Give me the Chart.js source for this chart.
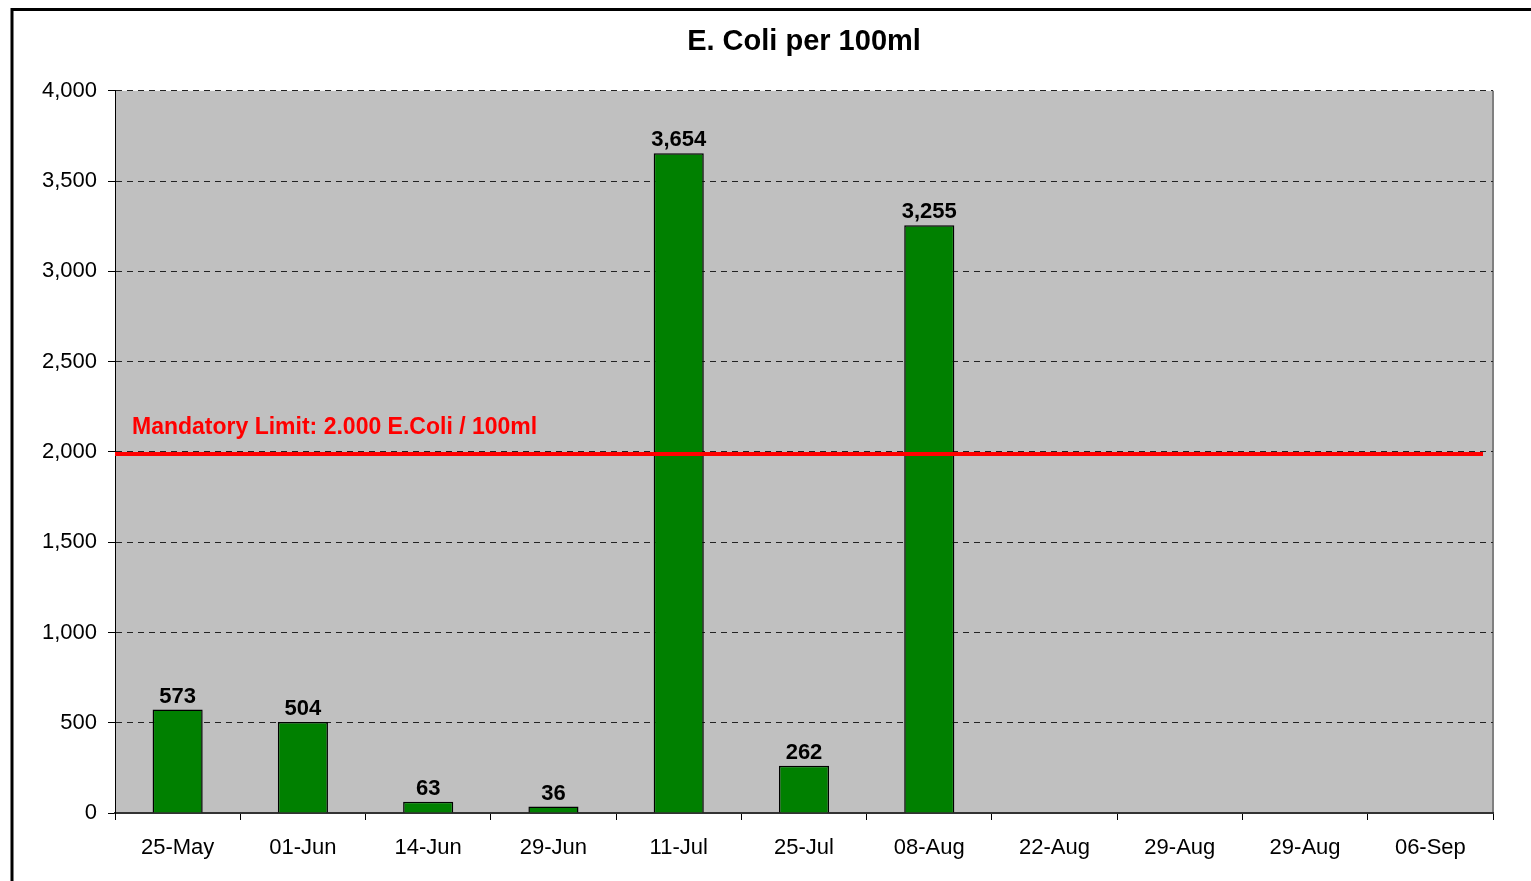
<!DOCTYPE html>
<html>
<head>
<meta charset="utf-8">
<script src="https://cdn.jsdelivr.net/npm/chart.js@4.4.0/dist/chart.umd.min.js"></script>
<style>
  html, body { margin: 0; padding: 0; background: #fff; }
  #wrap { width: 1531px; height: 881px; }
</style>
</head>
<body>
<div id="wrap"><canvas id="chart" width="1531" height="881"></canvas></div>
<script>
const dates = ['25-May', '01-Jun', '14-Jun', '29-Jun', '11-Jul', '25-Jul', '08-Aug', '22-Aug', '29-Aug', '29-Aug', '06-Sep'];
const ecoli = [573, 504, 63, 36, 3654, 262, 3255, null, null, null, null];
const limitValue = 2000;
const limitLabel = 'Mandatory Limit: 2.000 E.Coli / 100ml';

const font = 'Liberation Sans, Arial, sans-serif';

// grey plot area, outer frame, right border
const plotArea = {
  id: 'plotArea',
  beforeDraw(chart) {
    const { ctx, chartArea: a } = chart;
    ctx.save();
    ctx.fillStyle = '#c0c0c0';
    ctx.fillRect(a.left, a.top, a.right - a.left, a.bottom - a.top);
    ctx.strokeStyle = '#808080';
    ctx.lineWidth = 2;
    ctx.beginPath();
    ctx.moveTo(a.right, a.top);
    ctx.lineTo(a.right, a.bottom);
    ctx.stroke();
    ctx.strokeStyle = '#000';
    ctx.lineWidth = 3;
    ctx.strokeRect(12, 9.5, 1600, 1000);
    ctx.restore();
  }
};

// limit line + label, bar value labels
const extras = {
  id: 'extras',
  afterDatasetsDraw(chart) {
    const { ctx, chartArea: a, scales: { y } } = chart;
    const ly = y.getPixelForValue(limitValue) + 2;
    ctx.save();
    ctx.strokeStyle = '#ff0000';
    ctx.lineWidth = 4;
    ctx.beginPath();
    ctx.moveTo(a.left, ly);
    ctx.lineTo(a.right - 10, ly);
    ctx.stroke();
    ctx.fillStyle = '#ff0000';
    ctx.font = 'bold 23px ' + font;
    ctx.textAlign = 'left';
    ctx.textBaseline = 'alphabetic';
    ctx.fillText(limitLabel, a.left + 17, ly - 20);

    ctx.font = 'bold 22px ' + font;
    const meta = chart.getDatasetMeta(0);
    ctx.fillStyle = '#000';
    ctx.textAlign = 'center';
    meta.data.forEach((bar, i) => {
      const v = ecoli[i];
      if (v == null) return;
      ctx.fillText(v.toLocaleString('en-US'), bar.x, bar.y - 7);
    });
    ctx.restore();
  }
};

new Chart(document.getElementById('chart'), {
  type: 'bar',
  data: {
    labels: dates,
    datasets: [{
      data: ecoli,
      backgroundColor: '#008000',
      borderColor: '#000000',
      borderWidth: 1.5,
      barPercentage: 0.4,
      categoryPercentage: 1.0
    }]
  },
  options: {
    responsive: false,
    animation: false,
    layout: { padding: { left: 0, right: 38, top: 0, bottom: 0 } },
    plugins: {
      legend: { display: false },
      tooltip: { enabled: false },
      title: {
        display: true,
        fullSize: false,
        text: 'E. Coli per 100ml',
        color: '#000',
        font: { family: font, size: 29, weight: 'bold' },
        padding: { top: 25, bottom: 31 }
      }
    },
    scales: {
      x: {
        afterFit(s) { s.height = 68; },
        grid: {
          offset: true,
          drawOnChartArea: false,
          drawTicks: true,
          tickLength: 7,
          color: '#000'
        },
        border: { color: '#333', width: 2 },
        ticks: {
          color: '#000',
          padding: 15,
          maxRotation: 0,
          font: { family: font, size: 22 }
        }
      },
      y: {
        min: 0,
        max: 4000,
        afterFit(s) { s.width = 115; },
        grid: {
          color: '#222',
          lineWidth: 1,
          tickLength: 7,
          tickColor: '#000',
          tickBorderDash: []
        },
        border: { color: '#000', width: 1, dash: [6, 5] },
        ticks: {
          stepSize: 500,
          color: '#000',
          padding: 11,
          font: { family: font, size: 22 },
          callback: v => v.toLocaleString('en-US')
        }
      }
    }
  },
  plugins: [plotArea, extras]
});
</script>
</body>
</html>
